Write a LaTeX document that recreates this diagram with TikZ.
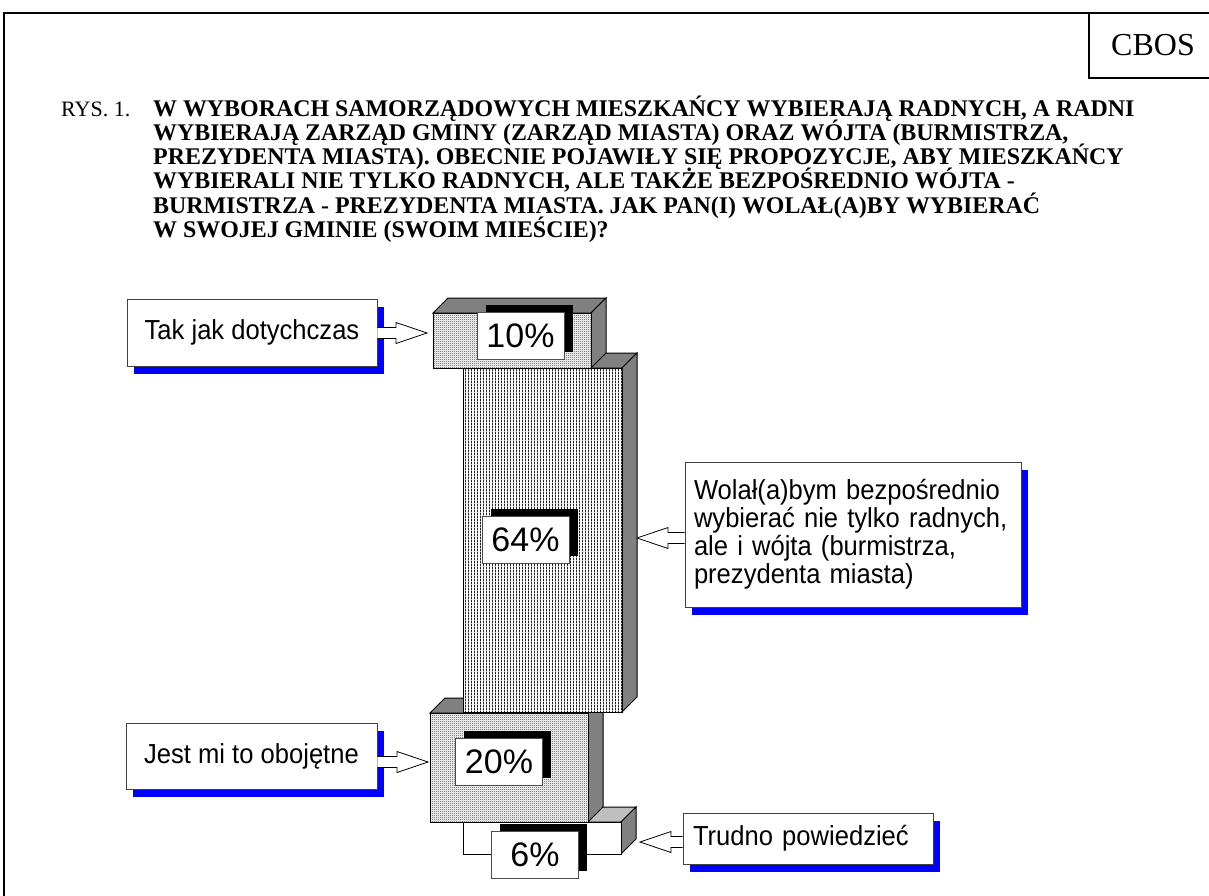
\documentclass[tikz,border=0pt]{standalone}
\usepackage{fontspec}
\setmainfont{Liberation Serif}
\newfontfamily\arial{Liberation Sans}
\newfontfamily\arialn[FakeStretch=0.93]{Liberation Sans}
\usetikzlibrary{patterns,shadows,calc}

\pgfdeclarepatternformonly{checks}{\pgfpointorigin}{\pgfqpoint{2pt}{2pt}}{\pgfqpoint{2pt}{2pt}}{%
 \pgfpathrectangle{\pgfpointorigin}{\pgfqpoint{1pt}{1pt}}%
 \pgfpathrectangle{\pgfqpoint{1pt}{1pt}}{\pgfqpoint{1pt}{1pt}}%
 \pgfusepath{fill}}
\pgfdeclarepatternformonly{vstripes}{\pgfpointorigin}{\pgfqpoint{3pt}{3pt}}{\pgfqpoint{3pt}{3pt}}{%
 \pgfpathrectangle{\pgfpointorigin}{\pgfqpoint{1.1pt}{3pt}}\pgfusepath{fill}}

\definecolor{darkface}{gray}{0.5}
\definecolor{lightface}{gray}{0.75}

\tikzset{
  edge1/.style={draw=black, line width=1pt},
  front10/.style={edge1, preaction={fill=white}, pattern=checks, pattern color=black!75},
  front64/.style={edge1, preaction={fill=white}, pattern=vstripes, pattern color=black!85},
  front6/.style={edge1, fill=white},
  pct/.style={draw=black!70, line width=0.8pt, fill=white, inner sep=0pt,
    font=\arial\fontsize{34}{36}\selectfont, minimum width=87pt, minimum height=47pt,
    general shadow={fill=black, shadow xshift=8.5pt, shadow yshift=7.5pt}},
  callout/.style={draw=black!75, line width=0.8pt, fill=white, inner sep=0pt,
    font=\arialn\fontsize{27.5}{28}\selectfont,
    general shadow={fill=blue, shadow xshift=7pt, shadow yshift=-8pt}},
  blockarrow/.style={draw=black, fill=white, line width=0.8pt, line join=miter},
  titleline/.style={anchor=base west, inner sep=0pt, font=\fontsize{23.9}{24}\selectfont\bfseries},
}

\newcommand\drawbar[7]{%
 \filldraw[edge1, fill=#6] (#1,#2) -- ({#1+15},{#2-15}) -- ({#3+15},{#2-15}) -- (#3,#2) -- cycle;
 \filldraw[edge1, fill=#7] (#3,#2) -- ({#3+15},{#2-15}) -- ({#3+15},{#4-15}) -- (#3,#4) -- cycle;
 \draw[#5] (#1,#2) rectangle (#3,#4);}

\newcommand\rarrow[2]{%
 \filldraw[blockarrow] let \p1=(#1.east), \p2=(#2) in
 (\x1,\y2+5.5pt) -- (\x2-31pt,\y2+5.5pt) -- (\x2-31pt,\y2+10.5pt) -- (\x2,\y2)
 -- (\x2-31pt,\y2-10.5pt) -- (\x2-31pt,\y2-5.5pt) -- (\x1,\y2-5.5pt);}
\newcommand\larrow[2]{%
 \filldraw[blockarrow] let \p1=(#1.west), \p2=(#2) in
 (\x1,\y2+5.5pt) -- (\x2+31pt,\y2+5.5pt) -- (\x2+31pt,\y2+10.5pt) -- (\x2,\y2)
 -- (\x2+31pt,\y2-10.5pt) -- (\x2+31pt,\y2-5.5pt) -- (\x1,\y2-5.5pt);}

\begin{document}
\begin{tikzpicture}[x=1pt, y=-1pt]
\useasboundingbox (0,0) rectangle (1209,896);
\fill[white] (0,0) rectangle (1209,896);

% frame
\draw[line width=2pt] (4,896) -- (4,13) -- (1209,13);
\draw[line width=2pt] (1089,13) -- (1089,78) -- (1209,78);
\node[font=\fontsize{32}{34}\selectfont, inner sep=0pt] (cbos) at (1153,45) {CBOS};

% title
\node[anchor=base west, inner sep=0pt, font=\fontsize{22}{24}\selectfont] (rys) at (61,117) {RYS. 1.};
\node[titleline] (t1) at (153,117) {W WYBORACH SAMORZĄDOWYCH MIESZKAŃCY WYBIERAJĄ RADNYCH, A RADNI};
\node[titleline] (t2) at (153,141) {WYBIERAJĄ ZARZĄD GMINY (ZARZĄD MIASTA) ORAZ WÓJTA (BURMISTRZA,};
\node[titleline] (t3) at (153,165) {PREZYDENTA MIASTA). OBECNIE POJAWIŁY SIĘ PROPOZYCJE, ABY MIESZKAŃCY};
\node[titleline] (t4) at (153,189) {WYBIERALI NIE TYLKO RADNYCH, ALE TAKŻE BEZPOŚREDNIO WÓJTA -};
\node[titleline] (t5) at (153,213) {BURMISTRZA - PREZYDENTA MIASTA. JAK PAN(I) WOLAŁ(A)BY WYBIERAĆ};
\node[titleline] (t6) at (153,237) {W SWOJEJ GMINIE (SWOIM MIEŚCIE)?};

% bars (back to front)
\drawbar{463}{822}{621}{854}{front6}{lightface}{darkface}
\drawbar{430}{713}{588}{822}{front10}{darkface}{darkface}
\drawbar{463}{368}{622}{712}{front64}{darkface}{darkface}
\drawbar{433}{313}{591}{368}{front10}{darkface}{darkface}

% percent labels
\node[pct] (l10) at (520.5,335.5) {10\%};
\node[pct] (l64) at (525.5,539.5) {64\%};
\node[pct] (l20) at (499,761.5) {20\%};
\node[pct] (l6) at (535,855) {6\%};

% callouts
\node[callout, minimum width=250pt, minimum height=67pt] (c10) at (252,332.5) {Tak jak dotychczas};
\node[callout, minimum width=251pt, minimum height=66pt] (c20) at (251.5,756) {Jest mi to obojętne};
\node[callout, inner xsep=10pt, text width=230pt, align=left, minimum height=51pt] (c6) at (808,838.5) {Trudno powiedzieć};
\node[callout, inner xsep=9pt, text width=318pt, align=left, minimum height=145pt] (c64) at (853,534.5)
  {\mbox{Wolał(a)bym bezpośrednio}\\\mbox{wybierać nie tylko radnych,}\\\mbox{ale i wójta (burmistrza,}\\\mbox{prezydenta miasta)}};

% arrow tips
\coordinate (a10) at (427,333);
\coordinate (a20) at (428,762);
\coordinate (a64) at (637,538);
\coordinate (a6) at (640,842);
\rarrow{c10}{a10}
\rarrow{c20}{a20}
\larrow{c64}{a64}
\larrow{c6}{a6}
\end{tikzpicture}
\end{document}
